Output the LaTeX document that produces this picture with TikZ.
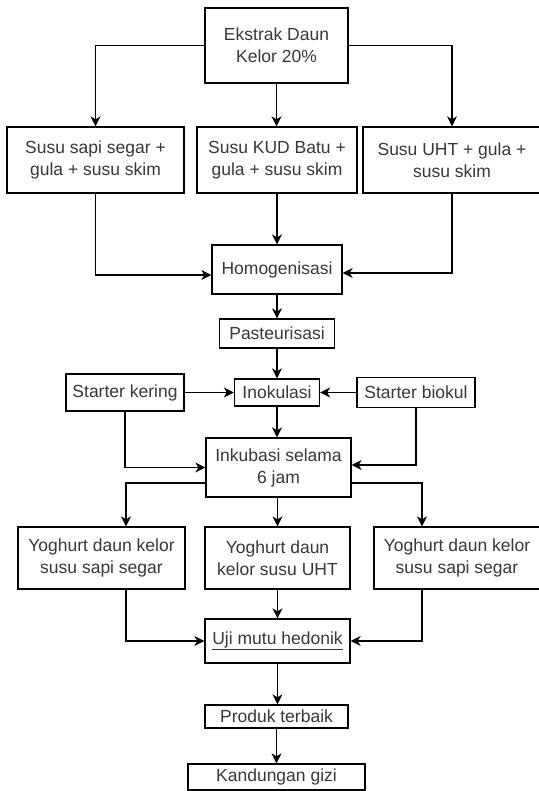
\documentclass[tikz,border=0pt]{standalone}
\usepackage{fontspec}
\setmainfont{Liberation Sans}
\usetikzlibrary{arrows.meta}
\begin{document}
\begin{tikzpicture}[x=1pt,y=-1pt,
  box/.style={draw=black, line width=1.3pt, inner sep=0pt, align=center,
    text=black!78, font=\fontsize{17.5}{22}\selectfont},
  arr/.style={line width=1.3pt, draw=black,
    -{Stealth[length=10pt,width=10pt,inset=3pt]}}]
\useasboundingbox (0,0) rectangle (538,791);
\fill[white] (0,0) rectangle (538,791);

\node[box, minimum width=143pt, minimum height=75pt] (ek) at (276.5,45.5) {Ekstrak Daun\\Kelor 20\%};
\node[box, minimum width=177pt, minimum height=66pt] (s1) at (95.5,160) {Susu sapi segar +\\gula + susu skim};
\node[box, minimum width=160pt, minimum height=66pt] (s2) at (277,160) {Susu KUD Batu +\\gula + susu skim};
\node[box, minimum width=178pt, minimum height=66pt] (s3) at (452,160) {Susu UHT + gula +\\susu skim};
\node[box, minimum width=130pt, minimum height=49pt] (hom) at (277,269.5) {Homogenisasi};
\node[box, minimum width=115pt, minimum height=29pt] (pas) at (277,333.5) {Pasteurisasi};
\node[box, minimum width=85pt, minimum height=27pt] (ino) at (277,392.5) {Inokulasi};
\node[box, minimum width=118pt, minimum height=37pt] (sk) at (125,392.5) {Starter kering};
\node[box, minimum width=118pt, minimum height=30pt] (sb) at (416,392.5) {Starter biokul};
\node[box, minimum width=145pt, minimum height=59pt] (ink) at (278.5,467.5) {Inkubasi selama\\6 jam};
\node[box, minimum width=167pt, minimum height=62pt] (y1) at (101.5,558) {Yoghurt daun kelor\\susu sapi segar};
\node[box, minimum width=145pt, minimum height=62pt] (y2) at (277.5,558) {Yoghurt daun\\kelor susu UHT};
\node[box, minimum width=166pt, minimum height=62pt] (y3) at (457,558) {Yoghurt daun kelor\\susu sapi segar};
\node[box, minimum width=145pt, minimum height=44pt] (uji) at (277.5,641) {\underline{Uji mutu hedonik}};
\node[box, minimum width=143pt, minimum height=23pt] (pro) at (276.5,716.5) {Produk terbaik};
\node[box, minimum width=177pt, minimum height=26pt] (kan) at (276.5,777) {Kandungan gizi};

\draw[arr] (ek.west) -| (s1.north);
\draw[arr] (ek.south) -- (ek.south |- s2.north);
\draw[arr] (ek.east) -| (s3.north);
\draw[arr] (s1.south) |- ([yshift=-5.5pt]hom.west);
\draw[arr] (s2.south) -- (s2.south |- hom.north);
\draw[arr] (s3.south) |- ([yshift=-3.5pt]hom.east);
\draw[arr] (hom.south) -- (hom.south |- pas.north);
\draw[arr] (pas.south) -- (pas.south |- ino.north);
\draw[arr] (sk.east) -- (ino.west);
\draw[arr] (sb.west) -- (ino.east);
\draw[arr] (ino.south) -- (ino.south |- ink.north);
\draw[arr] (sk.south) |- (ink.west);
\draw[arr] (sb.south) |- ([yshift=2.5pt]ink.east);
\draw[arr] ([yshift=-15.5pt]ink.west) -| ([xshift=24.5pt]y1.north);
\draw[arr] (ink.south -| y2.north) -- (y2.north);
\draw[arr] ([yshift=-15.5pt]ink.east) -| ([xshift=-35pt]y3.north);
\draw[arr] ([xshift=24.5pt]y1.south) |- (uji.west);
\draw[arr] (y2.south) -- (uji.north);
\draw[arr] ([xshift=-35pt]y3.south) |- (uji.east);
\draw[arr] (uji.south) -- (uji.south |- pro.north);
\draw[arr] (pro.south) -- (pro.south |- kan.north);
\end{tikzpicture}
\end{document}
